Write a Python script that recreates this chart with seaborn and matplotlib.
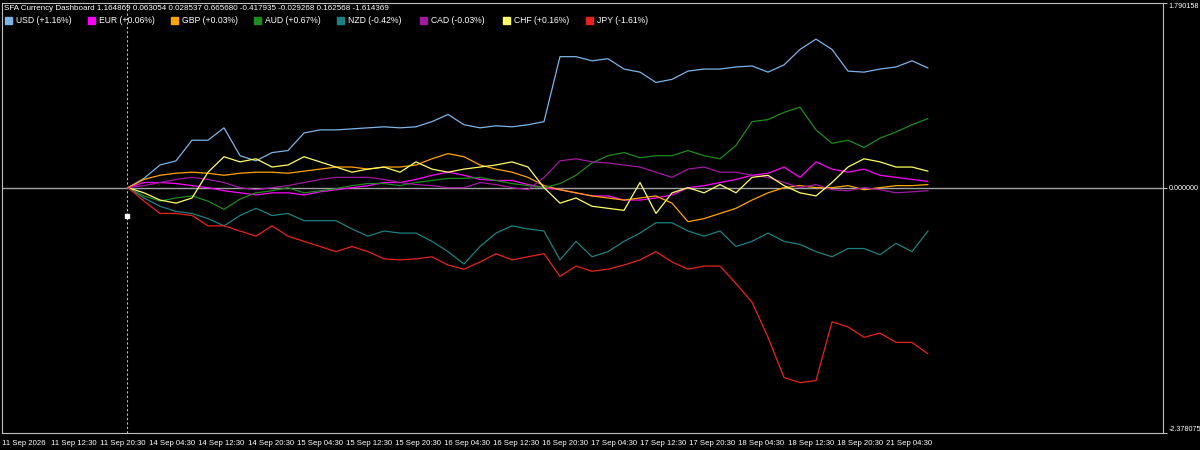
import numpy as np
import pandas as pd
import matplotlib
matplotlib.use("Agg")
import matplotlib.pyplot as plt
import seaborn as sns

currencies = ["USD", "EUR", "GBP", "AUD", "NZD", "CAD", "CHF", "JPY"]
legend_labels = ["USD (+1.16%)", "EUR (+0.06%)", "GBP (+0.03%)", "AUD (+0.67%)",
                 "NZD (-0.42%)", "CAD (-0.03%)", "CHF (+0.16%)", "JPY (-1.61%)"]
colors = ["#7fb3e6", "#ff00ff", "#ffa500", "#1f8a1f", "#1f8080", "#a01aa0", "#ffff66", "#e8221e"]

usd = [0, .09, .22, .26, .46, .46, .58, .31, .26, .34, .36, .53, .56, .56, .57, .58, .59, .58, .59, .64,
       .71, .61, .58, .60, .59, .61, .64, 1.27, 1.27, 1.23, 1.25, 1.15, 1.12, 1.02, 1.05, 1.13, 1.15, 1.15,
       1.17, 1.18, 1.12, 1.19, 1.34, 1.44, 1.34, 1.13, 1.12, 1.15, 1.17, 1.23, 1.16]
eur = [0, .05, .05, .04, .02, 0, -.03, -.05, -.07, -.05, -.05, -.07, -.04, -.02, 0, .02, .05, .05, .08, .12,
       .15, .12, .08, .07, .07, .03, 0, -.02, -.05, -.08, -.08, -.12, -.12, -.10, -.07, 0, .02, .05, .08,
       .12, .14, .20, .10, .25, .18, .15, .18, .12, .10, .08, .06]
gbp = [0, .08, .12, .14, .15, .14, .12, .14, .15, .15, .14, .16, .18, .20, .20, .18, .20, .20, .22, .28,
       .33, .30, .22, .18, .15, .10, .02, -.02, -.05, -.08, -.10, -.12, -.10, -.08, -.15, -.33, -.30, -.25,
       -.20, -.12, -.05, 0, .02, 0, 0, .02, -.02, 0, .02, .02, .03]
aud = [0, -.08, -.13, -.10, -.08, -.13, -.21, -.11, -.05, -.03, 0, -.05, -.03, -.01, .02, .04, .04, .02,
       .05, .07, .09, .09, .10, .07, .04, .02, 0, .04, .12, .24, .31, .34, .29, .31, .31, .36, .31, .28,
       .41, .64, .66, .73, .78, .56, .43, .46, .39, .48, .54, .61, .67]
nzd = [0, -.10, -.18, -.23, -.25, -.30, -.37, -.27, -.20, -.27, -.25, -.32, -.32, -.32, -.40, -.47, -.42,
       -.44, -.44, -.52, -.62, -.74, -.57, -.44, -.37, -.40, -.42, -.70, -.52, -.67, -.62, -.52, -.44, -.34,
       -.34, -.42, -.47, -.42, -.57, -.52, -.44, -.52, -.55, -.62, -.67, -.59, -.59, -.65, -.54, -.62, -.42]
cad = [0, .02, .05, .08, .10, .08, .05, 0, -.02, 0, .02, .05, .08, .10, .10, .10, .08, .05, .03, .02, 0,
       0, .05, .03, 0, -.02, .10, .26, .28, .25, .24, .22, .20, .15, .10, .18, .20, .15, .15, .12, .10, .05,
       0, .03, -.02, -.03, 0, -.02, -.05, -.04, -.03]
chf = [0, -.05, -.12, -.15, -.10, .15, .30, .25, .28, .20, .22, .30, .25, .20, .15, .18, .20, .15, .25,
       .18, .15, .18, .20, .22, .25, .20, 0, -.15, -.10, -.18, -.20, -.22, .05, -.25, -.05, 0, -.05, .03,
       -.05, .10, .12, .02, -.05, -.08, .05, .20, .28, .25, .20, .20, .16]
jpy = [0, -.13, -.25, -.25, -.27, -.37, -.37, -.42, -.47, -.37, -.47, -.52, -.57, -.62, -.57, -.62, -.69,
       -.70, -.69, -.67, -.75, -.79, -.72, -.64, -.70, -.67, -.64, -.86, -.76, -.81, -.79, -.75, -.70, -.62,
       -.72, -.79, -.76, -.76, -.93, -1.11, -1.45, -1.84, -1.89, -1.87, -1.30, -1.35, -1.45, -1.41, -1.50,
       -1.50, -1.61]

tick_labels = ["11 Sep 2026", "11 Sep 12:30", "11 Sep 20:30", "14 Sep 04:30", "14 Sep 12:30",
               "14 Sep 20:30", "15 Sep 04:30", "15 Sep 12:30", "15 Sep 20:30", "16 Sep 04:30",
               "16 Sep 12:30", "16 Sep 20:30", "17 Sep 04:30", "17 Sep 12:30", "17 Sep 20:30",
               "18 Sep 04:30", "18 Sep 12:30", "18 Sep 20:30", "21 Sep 04:30"]
y_max, y_min = 1.790158, -2.378075
header = "SFA Currency Dashboard 1.164869 0.063054 0.028537 0.665680 -0.417935 -0.029268 0.162568 -1.614369"

series = [usd, eur, gbp, aud, nzd, cad, chf, jpy]
rows = []
for c, vals in zip(currencies, series):
    for i, v in enumerate(vals):
        rows.append({"bar": 31.5 + 4 * i, "value": v, "cur": c})
df = pd.DataFrame(rows)

sns.set_style("dark")
plt.rcParams["font.family"] = ["Liberation Sans", "DejaVu Sans"]
fig = plt.figure(figsize=(12, 4.5), dpi=100, facecolor="black")
ax = fig.add_axes([2 / 1200, 17 / 450, 1161 / 1200, 430 / 450])
ax.set_facecolor("black")

ax.axhline(0, color="#a0a0a0", lw=1)
ax.axvline(31.25, color="#c0c0c0", lw=0.8, ls=(0, (2, 2)))
sns.lineplot(data=df, x="bar", y="value", hue="cur", palette=dict(zip(currencies, colors)),
             lw=0.9, ax=ax, legend=False)
ax.plot([31.25], [-0.27], marker="s", ms=3, color="white")

tick_step = 49.1 / 4
ax.set_xlim(0, 290.25)
ax.set_ylim(y_min, y_max)
ax.set_xticks([tick_step * k for k in range(len(tick_labels))])
ax.set_xticklabels(tick_labels, color="white", fontsize=5.6, ha="left")
ax.tick_params(axis="x", length=3, color="#c0c0c0", pad=2)
ax.yaxis.tick_right()
ax.set_yticks([y_max, 0, y_min])
ax.set_yticklabels(["1.790158", "0.000000", "-2.378075"], color="white", fontsize=5.2)
ax.tick_params(axis="y", length=3, color="#c0c0c0", pad=1)
ylabs = ax.get_yticklabels()
ylabs[0].set_va("top")
ylabs[2].set_va("bottom")
ax.set_xlabel("")
ax.set_ylabel("")
ax.grid(False)
for s in ax.spines.values():
    s.set_color("#c0c0c0")
    s.set_linewidth(0.8)

fig.text(4 / 1200, 1 - 8 / 450, header, color="white", fontsize=5.8, va="center")
for k, (lab, col) in enumerate(zip(legend_labels, colors)):
    x0 = 5 + 83 * k
    fig.patches.append(plt.Rectangle((x0 / 1200, 1 - 24 / 450), 7 / 1200, 7 / 450,
                                     transform=fig.transFigure, color=col, figure=fig))
    fig.text((x0 + 11) / 1200, 1 - 20.5 / 450, lab, color="white", fontsize=6.2, va="center")

fig.savefig("out.png", dpi=100, facecolor="black")
